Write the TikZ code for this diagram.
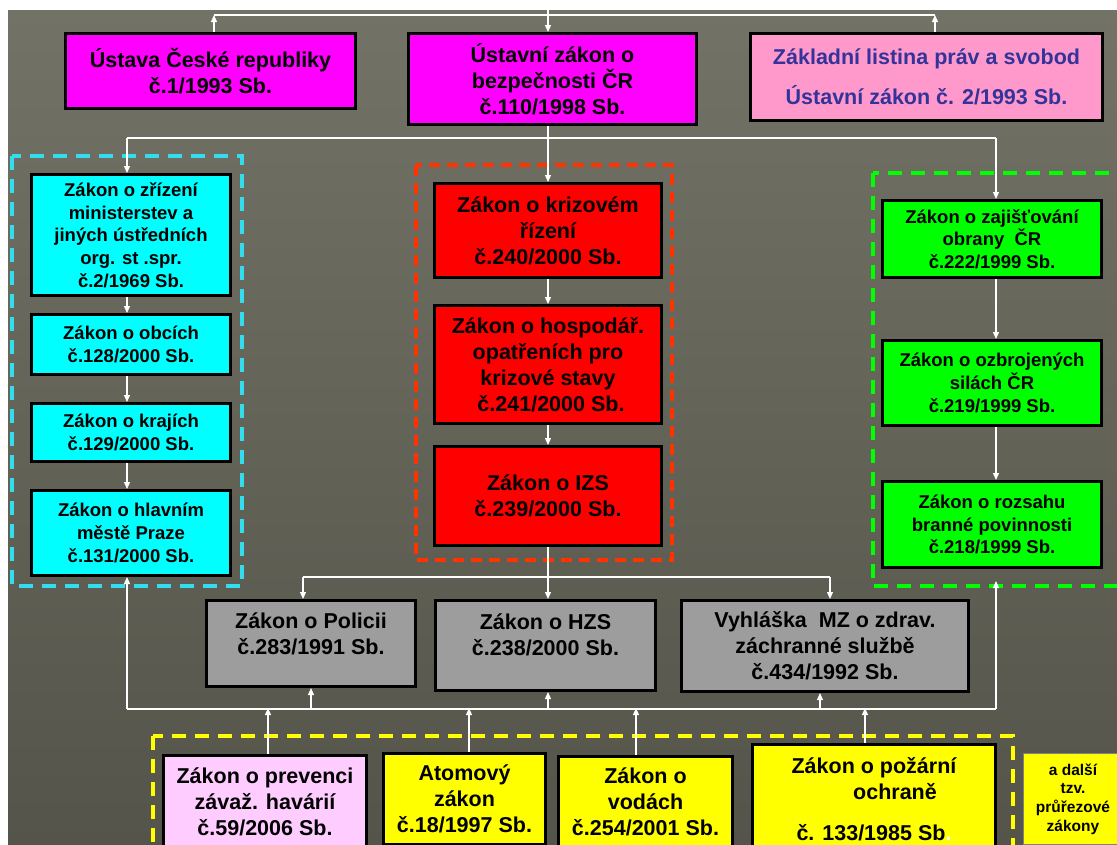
\documentclass[tikz,border=0pt]{standalone}
\usepackage{fontspec}
\setmainfont{Liberation Sans}
\usetikzlibrary{arrows.meta}
\definecolor{bgtop}{RGB}{114,114,102}
\definecolor{bgbot}{RGB}{84,84,74}
\definecolor{cyanD}{RGB}{51,221,238}
\definecolor{redD}{RGB}{255,51,0}
\definecolor{greenD}{RGB}{0,255,0}
\definecolor{yellowD}{RGB}{255,255,0}
\definecolor{magB}{RGB}{255,0,255}
\definecolor{cyanB}{RGB}{0,255,255}
\definecolor{redB}{RGB}{255,0,0}
\definecolor{greenB}{RGB}{0,255,0}
\definecolor{yellowB}{RGB}{255,255,0}
\definecolor{pinkZ}{RGB}{255,153,204}
\definecolor{blueZ}{RGB}{51,51,153}
\definecolor{pinkP}{RGB}{255,204,255}
\definecolor{grayB}{RGB}{157,157,157}
\begin{document}
\begin{tikzpicture}[x=1pt,y=-1pt,
  lbox/.style={draw=black, line width=3pt, inner sep=2pt, align=center, font=\bfseries\fontsize{21.5}{26}\selectfont},
  sbox/.style={lbox, font=\bfseries\fontsize{18.5}{22.7}\selectfont},
  conn/.style={draw=white, line width=1.2pt},
  arr/.style={conn, -{Triangle[length=7pt,width=6pt]}},
  grp/.style={line width=4pt, dash pattern=on 14pt off 9pt},
]
\clip (0,0) rectangle (1117,844);
\fill[white] (0,0) rectangle (1117,844);
\shade[top color=bgtop, bottom color=bgbot] (8,10) rectangle (1117,844);

% dashed groups
\draw[grp, draw=cyanD] (12,156) rectangle (242,586);
\draw[grp, draw=redD, line width=3.5pt, dash pattern=on 11pt off 7pt] (416,165) rectangle (672,560);
\draw[grp, draw=greenD] (873,173) rectangle (1130,586);
\draw[grp, draw=yellowD] (153,736) rectangle (1013,870);

% top row
\node[lbox, fill=magB, minimum width=290pt, minimum height=75pt] (ust) at (210.5,71) {Ústava České republiky\\č.1/1993 Sb.};
\node[lbox, fill=magB, minimum width=288pt, minimum height=91pt] (bez) at (552.5,79) {Ústavní zákon o\\bezpečnosti ČR\\č.110/1998 Sb.};
\node[lbox, fill=pinkZ, text=blueZ, minimum width=352pt, minimum height=87pt] (zak) at (926.5,77) {Základní listina práv a svobod\\[14pt]Ústavní zákon č. 2/1993 Sb.};

% cyan column
\node[sbox, fill=cyanB, minimum width=199pt, minimum height=121pt] (c1) at (131,235) {Zákon o zřízení\\ministerstev a\\jiných ústředních\\org. st .spr.\\č.2/1969 Sb.};
\node[sbox, fill=cyanB, minimum width=199pt, minimum height=60pt] (c2) at (131,344.5) {Zákon o obcích\\č.128/2000 Sb.};
\node[sbox, fill=cyanB, minimum width=199pt, minimum height=58pt] (c3) at (131,432.5) {Zákon o krajích\\č.129/2000 Sb.};
\node[sbox, fill=cyanB, minimum width=199pt, minimum height=85pt] (c4) at (131,533) {Zákon o hlavním\\městě Praze\\č.131/2000 Sb.};

% red column
\node[lbox, fill=redB, minimum width=227pt, minimum height=94pt] (r1) at (548,230.5) {Zákon o krizovém\\řízení\\č.240/2000 Sb.};
\node[lbox, fill=redB, minimum width=227pt, minimum height=118pt] (r2) at (548,364.5) {Zákon o hospodář.\\opatřeních pro\\krizové stavy\\\hspace*{6pt}č.241/2000 Sb.};
\node[lbox, fill=redB, minimum width=227pt, minimum height=99pt] (r3) at (548,496) {Zákon o IZS\\č.239/2000 Sb.};

% green column
\node[sbox, fill=greenB, minimum width=219pt, minimum height=77pt] (g1) at (992,239) {Zákon o zajišťování\\obrany~ ČR\\č.222/1999 Sb.};
\node[sbox, fill=greenB, minimum width=219pt, minimum height=85pt] (g2) at (992,383) {Zákon o ozbrojených\\silách ČR\\č.219/1999 Sb.};
\node[sbox, fill=greenB, minimum width=219pt, minimum height=86pt] (g3) at (992,524.5) {Zákon o rozsahu\\branné povinnosti\\č.218/1999 Sb.};

% gray row
\node[lbox, fill=grayB, minimum width=209pt, minimum height=86pt] (p) at (311,643.5) {Zákon o Policii\\č.283/1991 Sb.\\[-6pt]~};
\node[lbox, fill=grayB, minimum width=220pt, minimum height=90pt] (h) at (545.5,645.5) {Zákon o HZS\\č.238/2000 Sb.\\[-4pt]~};
\node[lbox, fill=grayB, minimum width=287pt, minimum height=91pt] (v) at (825,646) {Vyhláška~ MZ o zdrav.\\záchranné službě\\č.434/1992 Sb.};

% bottom row
\node[lbox, fill=pinkP, minimum width=203pt, minimum height=93pt] (pv) at (265,802) {Zákon o prevenci\\závaž. havárií\\č.59/2006 Sb.};
\node[lbox, fill=yellowB, minimum width=162pt, minimum height=91pt] (at) at (464.5,799) {Atomový\\zákon\\č.18/1997 Sb.};
\node[lbox, fill=yellowB, minimum width=174pt, minimum height=91pt] (vo) at (645.5,802) {Zákon o\\vodách\\č.254/2001 Sb.};
\node[lbox, fill=yellowB, minimum width=243pt, minimum height=109pt] (po) at (874,799) {Zákon o požární\\\hspace*{42pt}ochraně\\[15pt]č. 133/1985 Sb{\color{white}.}};
\node[draw=black!50, line width=0.6pt, fill=yellowB, align=center, font=\bfseries\fontsize{15.5}{18.7}\selectfont, minimum width=99pt, minimum height=91pt] (ad) at (1073,799) {a další\\tzv.\\průřezové\\zákony};

% connectors: top
\coordinate (tt) at (548,10);
\coordinate (tl) at (214,15);
\coordinate (tr) at (935,15);
\draw[conn] (tl) -- (tr);
\draw[arr] (tt) -- (tt |- bez.north);
\draw[arr] (tl |- ust.north) -- (tl);
\draw[arr] (tr |- zak.north) -- (tr);

% connectors: second level
\coordinate (ml) at (127,138);
\coordinate (mr) at (996,138);
\draw[arr] (r1.north |- bez.south) -- (r1.north);
\draw[conn] (ml) -- (mr);
\draw[arr] (ml) -- (ml |- c1.north);
\draw[arr] (mr) -- (mr |- g1.north);

% chains
\draw[arr] (ml |- c1.south) -- (ml |- c2.north);
\draw[arr] (ml |- c2.south) -- (ml |- c3.north);
\draw[arr] (ml |- c3.south) -- (ml |- c4.north);
\draw[arr] (r1) -- (r2);
\draw[arr] (r2) -- (r3);
\draw[arr] (mr |- g1.south) -- (mr |- g2.north);
\draw[arr] (mr |- g2.south) -- (mr |- g3.north);

% below red
\coordinate (ul) at (303,577);
\coordinate (ur) at (830,577);
\draw[conn] (ul) -- (ur);
\draw[arr] (r3.south) -- (r3.south |- h.north);
\draw[arr] (ul) -- (ul |- p.north);
\draw[arr] (ur) -- (ur |- v.north);

% lower bus
\coordinate (bl) at (127,709);
\coordinate (br) at (996,709);
\draw[conn] (bl) -- (br);
\draw[arr] (bl) -- (bl |- c4.south);
\draw[arr, shorten >=12pt] (br) -- (br |- g3.south);
\draw[arr] (p.south |- bl) -- (p.south);
\draw[arr] ([xshift=2.5pt]h.south |- bl) -- ([xshift=2.5pt]h.south);
\draw[arr] ([xshift=-5pt]v.south |- bl) -- ([xshift=-5pt]v.south);

% bottom arrows up
\draw[arr, shorten >=-1pt] ([xshift=3pt]pv.north) -- ([xshift=3pt]pv.north |- bl);
\draw[arr, shorten >=-1pt] ([xshift=4.5pt]at.north) -- ([xshift=4.5pt]at.north |- bl);
\draw[arr, shorten >=-1pt] ([xshift=-9.5pt]vo.north) -- ([xshift=-9.5pt]vo.north |- bl);
\draw[arr, shorten >=-1pt] ([xshift=-9pt]po.north) -- ([xshift=-9pt]po.north |- bl);
\end{tikzpicture}
\end{document}
